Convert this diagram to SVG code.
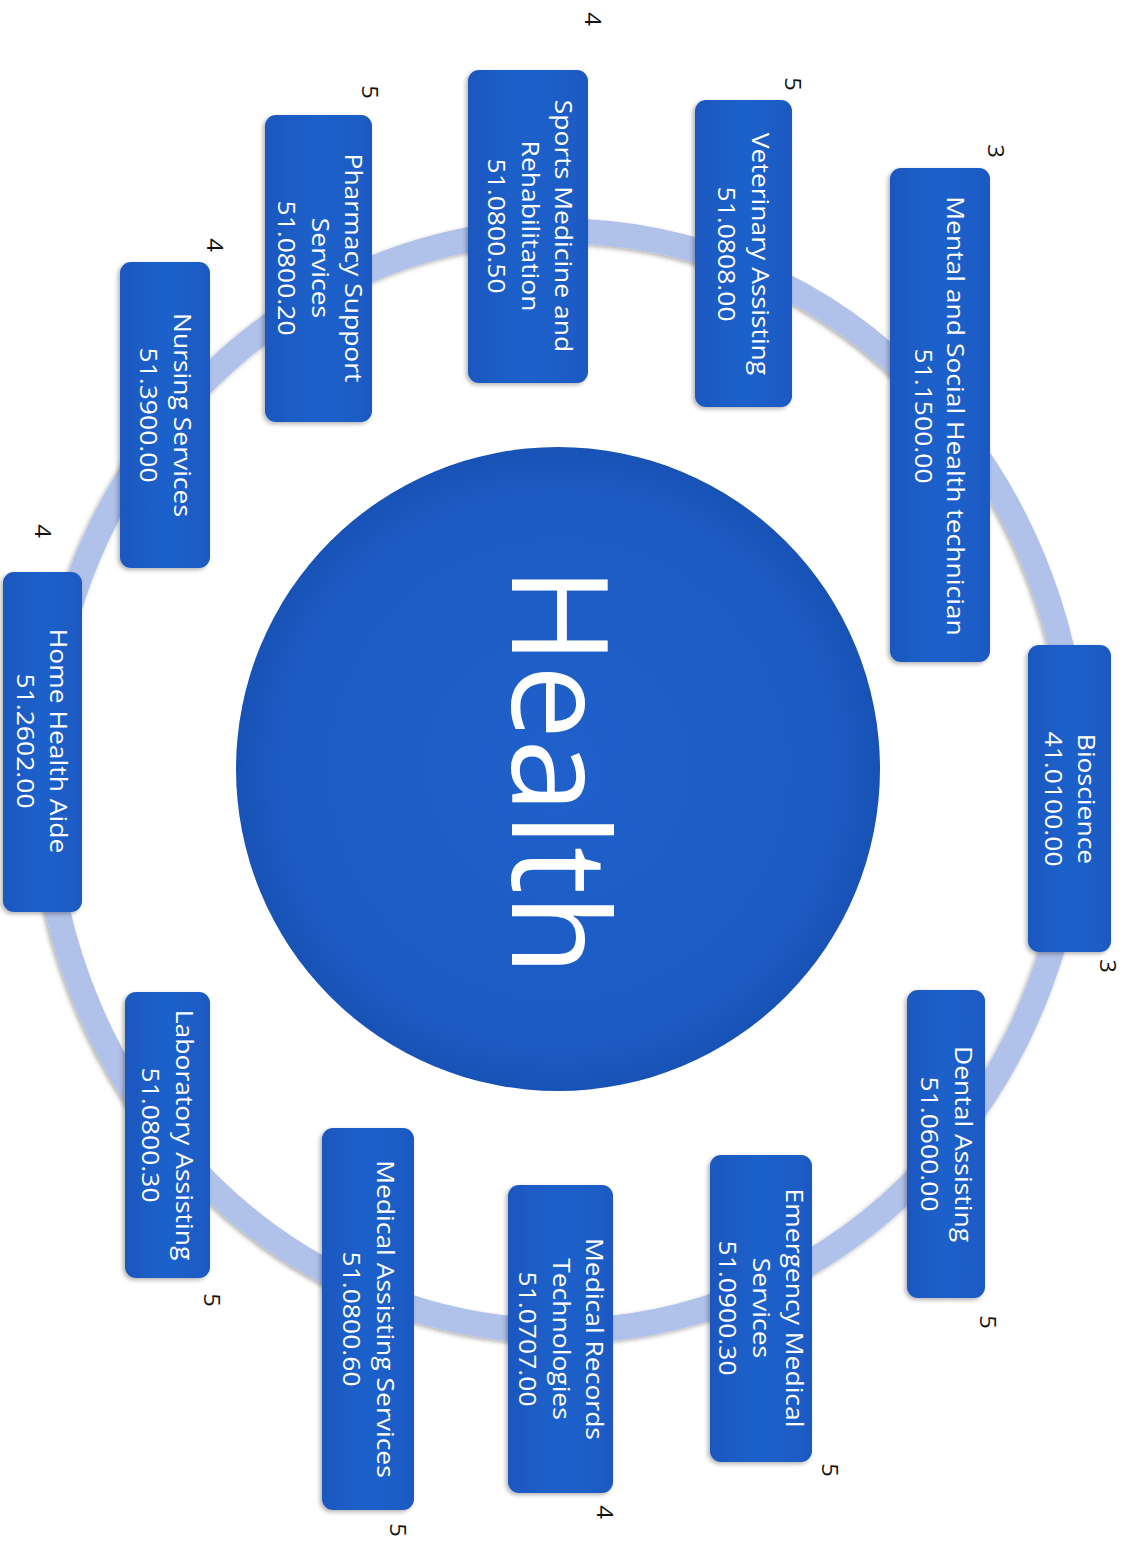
<svg xmlns="http://www.w3.org/2000/svg" width="1134" height="1543" viewBox="0 0 1134 1543">
<defs>
<style>
.box{fill:url(#boxg);filter:url(#sh)}
.lbl{font-family:"Open Sans","Noto Sans",sans-serif;font-size:26.5px;fill:#ffffff;text-anchor:middle}
.num{font-family:"Open Sans","Noto Sans",sans-serif;font-size:24px;fill:#111111;text-anchor:middle}
.title{font-family:"Open Sans","Noto Sans",sans-serif;font-size:133px;fill:#ffffff;text-anchor:middle}
</style>
<linearGradient id="boxg" x1="0" y1="0" x2="1" y2="0">
<stop offset="0" stop-color="#1b57bf"/>
<stop offset="0.5" stop-color="#1f61cb"/>
<stop offset="1" stop-color="#1b59c2"/>
</linearGradient>
<radialGradient id="circg" cx="0.5" cy="0.5" r="0.5">
<stop offset="0" stop-color="#1f60ca"/>
<stop offset="0.85" stop-color="#1d5bc4"/>
<stop offset="1" stop-color="#1852b6"/>
</radialGradient>
<filter id="sh" x="-10%" y="-10%" width="125%" height="125%">
<feDropShadow dx="-2" dy="2" stdDeviation="2" flood-color="#000" flood-opacity="0.3"/>
</filter>
</defs>
<rect width="1134" height="1543" fill="#ffffff"/>

<g id="connectors">
<ellipse cx="560" cy="781" rx="517" ry="550" fill="none" stroke="#b0c1ea" stroke-width="25" filter="url(#sh)"/>
</g>

<g id="center">
<circle cx="558" cy="769" r="322" fill="url(#circg)"/>
<text class="title" transform="translate(512,771) rotate(90)">Health</text>
</g>

<g id="mental">
<rect class="box" x="890" y="168" width="100" height="494" rx="11"/>
<text class="lbl" transform="translate(947,416) rotate(90) scale(1,0.9)"><tspan x="0" y="0">Mental and Social Health technician</tspan><tspan x="0" y="35.5">51.1500.00</tspan></text>
<text class="num" transform="translate(988,151) rotate(90) scale(1,0.9)">3</text>
</g>

<g id="bioscience">
<rect class="box" x="1028" y="645" width="83" height="307" rx="11"/>
<text class="lbl" transform="translate(1078,799) rotate(90) scale(1,0.9)"><tspan x="0" y="0">Bioscience</tspan><tspan x="0" y="37">41.0100.00</tspan></text>
<text class="num" transform="translate(1100,966) rotate(90) scale(1,0.9)">3</text>
</g>

<g id="veterinary">
<rect class="box" x="695" y="100" width="97" height="307" rx="11"/>
<text class="lbl" transform="translate(752,254) rotate(90) scale(1,0.9)"><tspan x="0" y="0">Veterinary Assisting</tspan><tspan x="0" y="37.5">51.0808.00</tspan></text>
<text class="num" transform="translate(785,84) rotate(90) scale(1,0.9)">5</text>
</g>

<g id="sports">
<rect class="box" x="468" y="70" width="120" height="313" rx="11"/>
<text class="lbl" transform="translate(555,226) rotate(90) scale(1,0.9)"><tspan x="0" y="0">Sports Medicine and</tspan><tspan x="0" y="37">Rehabilitation</tspan><tspan x="0" y="74">51.0800.50</tspan></text>
<text class="num" transform="translate(585,19) rotate(90) scale(1,0.9)">4</text>
</g>

<g id="pharmacy">
<rect class="box" x="265" y="115" width="107" height="307" rx="11"/>
<text class="lbl" transform="translate(345,268) rotate(90) scale(1,0.9)"><tspan x="0" y="0">Pharmacy Support</tspan><tspan x="0" y="37">Services</tspan><tspan x="0" y="74">51.0800.20</tspan></text>
<text class="num" transform="translate(362,92) rotate(90) scale(1,0.9)">5</text>
</g>

<g id="nursing">
<rect class="box" x="120" y="262" width="90" height="306" rx="11"/>
<text class="lbl" transform="translate(173.5,415) rotate(90) scale(1,0.9)"><tspan x="0" y="0">Nursing Services</tspan><tspan x="0" y="37.5">51.3900.00</tspan></text>
<text class="num" transform="translate(207,245) rotate(90) scale(1,0.9)">4</text>
</g>

<g id="homehealth">
<rect class="box" x="3" y="572" width="79" height="340" rx="11"/>
<text class="lbl" transform="translate(50,741) rotate(90) scale(1,0.9)"><tspan x="0" y="0">Home Health Aide</tspan><tspan x="0" y="37">51.2602.00</tspan></text>
<text class="num" transform="translate(35,531) rotate(90) scale(1,0.9)">4</text>
</g>

<g id="laboratory">
<rect class="box" x="125" y="992" width="85" height="286" rx="11"/>
<text class="lbl" transform="translate(176,1135) rotate(90) scale(1,0.9)"><tspan x="0" y="0">Laboratory Assisting</tspan><tspan x="0" y="37.5">51.0800.30</tspan></text>
<text class="num" transform="translate(204,1300) rotate(90) scale(1,0.9)">5</text>
</g>

<g id="medassisting">
<rect class="box" x="322" y="1128" width="92" height="382" rx="11"/>
<text class="lbl" transform="translate(376.5,1319) rotate(90) scale(1,0.9)"><tspan x="0" y="0">Medical Assisting Services</tspan><tspan x="0" y="37.5">51.0800.60</tspan></text>
<text class="num" transform="translate(390,1530) rotate(90) scale(1,0.9)">5</text>
</g>

<g id="medrecords">
<rect class="box" x="508" y="1185" width="105" height="308" rx="11"/>
<text class="lbl" transform="translate(586,1339) rotate(90) scale(1,0.9)"><tspan x="0" y="0">Medical Records</tspan><tspan x="0" y="37">Technologies</tspan><tspan x="0" y="74">51.0707.00</tspan></text>
<text class="num" transform="translate(597,1512) rotate(90) scale(1,0.9)">4</text>
</g>

<g id="emergency">
<rect class="box" x="710" y="1155" width="102" height="307" rx="11"/>
<text class="lbl" transform="translate(786,1308) rotate(90) scale(1,0.9)"><tspan x="0" y="0">Emergency Medical</tspan><tspan x="0" y="37">Services</tspan><tspan x="0" y="74">51.0900.30</tspan></text>
<text class="num" transform="translate(822,1470) rotate(90) scale(1,0.9)">5</text>
</g>

<g id="dental">
<rect class="box" x="907" y="990" width="78" height="308" rx="11"/>
<text class="lbl" transform="translate(954.5,1144) rotate(90) scale(1,0.9)"><tspan x="0" y="0">Dental Assisting</tspan><tspan x="0" y="37">51.0600.00</tspan></text>
<text class="num" transform="translate(980,1322) rotate(90) scale(1,0.9)">5</text>
</g>
</svg>
